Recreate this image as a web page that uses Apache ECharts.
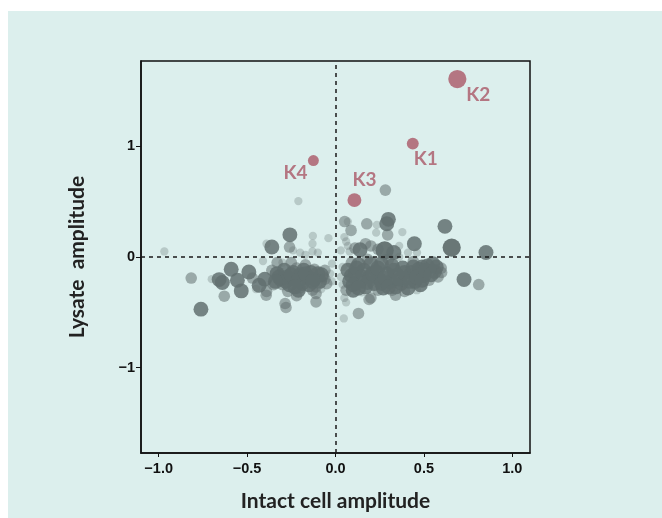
<!DOCTYPE html>
<html>
<head>
<meta charset="utf-8">
<script src="https://cdn.jsdelivr.net/npm/echarts@6/dist/echarts.min.js"></script>
<style>
  html, body { margin: 0; padding: 0; background: #fff; }
  .wrap { position: relative; width: 662px; height: 518px; }
  .panel { position: absolute; left: 8px; top: 11px; right: 0; bottom: 0; background: #dcefed; }
  #chart { position: absolute; left: 0; top: 0; width: 662px; height: 518px; }
</style>
</head>
<body>
<div class="wrap">
  <div class="panel"></div>
  <div id="chart"></div>
</div>
<script>
// [intact cell amplitude, lysate amplitude, weight 1..4]
const proteins = [
  [-0.968, 0.05, 1], [-0.816, -0.19, 2], [-0.761, -0.471, 3], [-0.70, -0.20, 1],
  [-0.658, -0.204, 3], [-0.64, -0.23, 3], [-0.59, -0.11, 3], [-0.629, -0.354, 2],
  [-0.555, -0.21, 3], [-0.533, -0.306, 3], [-0.49, -0.135, 3], [-0.47, -0.19, 2],
  [-0.432, -0.255, 3], [-0.40, -0.20, 3], [-0.392, -0.345, 2], [-0.39, -0.31, 2],
  [-0.45, -0.29, 1], [-0.36, 0.09, 3], [-0.258, 0.20, 3], [-0.26, 0.09, 2],
  [-0.24, 0.06, 1], [-0.21, 0.505, 1], [-0.128, 0.19, 1], [-0.04, 0.17, 1],
  [-0.13, 0.05, 1], [-0.13, 0.12, 1], [-0.39, 0.12, 1], [-0.41, -0.036, 1],
  [-0.33, -0.05, 2], [-0.30, -0.05, 1], [-0.20, 0.04, 1], [-0.17, 0.02, 1],
  [-0.10, 0.04, 1], [-0.02, -0.06, 1], [-0.28, -0.456, 2], [-0.285, -0.42, 2],
  [-0.11, -0.405, 2], [-0.11, -0.33, 2], [-0.21, -0.30, 3], [-0.22, -0.35, 2],
  [-0.30, -0.25, 2],
  [-0.33, -0.15, 3], [-0.31, -0.20, 3], [-0.29, -0.12, 3], [-0.27, -0.18, 3],
  [-0.26, -0.25, 3], [-0.24, -0.14, 3], [-0.23, -0.20, 3], [-0.22, -0.10, 2],
  [-0.20, -0.16, 3], [-0.19, -0.24, 3], [-0.18, -0.12, 3], [-0.16, -0.19, 3],
  [-0.15, -0.25, 3], [-0.14, -0.14, 3], [-0.12, -0.20, 3], [-0.11, -0.27, 2],
  [-0.10, -0.15, 3], [-0.09, -0.22, 3], [-0.07, -0.18, 2], [-0.06, -0.12, 2],
  [-0.05, -0.24, 2], [-0.03, -0.15, 1], [-0.35, -0.25, 2], [-0.36, -0.12, 2],
  [-0.25, -0.05, 2], [-0.17, -0.07, 2], [-0.13, -0.30, 2], [-0.08, -0.29, 1],
  [-0.02, -0.22, 1], [-0.27, -0.31, 2], [-0.20, -0.28, 2],
  [-0.32, -0.18, 3], [-0.28, -0.22, 3], [-0.25, -0.16, 3], [-0.21, -0.21, 3],
  [-0.17, -0.15, 3], [-0.13, -0.22, 3], [-0.08, -0.16, 3], [-0.06, -0.20, 2],
  [-0.34, -0.22, 3], [-0.23, -0.27, 3], [-0.12, -0.11, 2],
  [0.282, 0.604, 2], [0.299, 0.34, 3], [0.29, 0.30, 3], [0.619, 0.277, 3],
  [0.657, 0.085, 4], [0.851, 0.04, 3], [0.727, -0.204, 3], [0.81, -0.249, 2],
  [0.446, 0.12, 3], [0.461, 0.04, 1], [0.378, 0.225, 1], [0.41, 0.04, 1],
  [0.177, 0.30, 2], [0.234, 0.29, 1], [0.052, 0.32, 2], [0.07, 0.32, 1],
  [0.088, 0.24, 2], [0.05, 0.18, 1], [0.06, 0.14, 1], [0.07, 0.10, 1],
  [0.03, 0.06, 1], [0.08, 0.05, 1], [0.295, 0.20, 2], [0.139, 0.066, 3],
  [0.17, 0.12, 2], [0.20, 0.10, 2], [0.24, 0.07, 2], [0.278, 0.06, 4],
  [0.33, 0.04, 3], [0.36, 0.10, 1], [0.11, 0.08, 2], [0.598, -0.10, 2],
  [0.55, -0.06, 3], [0.49, -0.09, 3], [0.34, -0.345, 2], [0.19, -0.384, 2],
  [0.20, -0.37, 2], [0.13, -0.51, 2], [0.047, -0.555, 1], [0.05, -0.37, 1],
  [0.06, -0.41, 1], [0.04, -0.25, 1], [0.03, -0.18, 1], [0.23, 0.22, 1],
  [0.07, -0.12, 3], [0.08, -0.22, 3], [0.10, -0.30, 3], [0.11, -0.15, 3],
  [0.13, -0.07, 3], [0.14, -0.22, 3], [0.16, -0.12, 3], [0.17, -0.27, 3],
  [0.19, -0.18, 3], [0.20, -0.06, 3], [0.22, -0.24, 3], [0.23, -0.13, 3],
  [0.25, -0.20, 3], [0.26, -0.06, 3], [0.27, -0.28, 3], [0.29, -0.15, 3],
  [0.31, -0.22, 3], [0.32, -0.08, 3], [0.34, -0.27, 3], [0.35, -0.16, 3],
  [0.37, -0.24, 3], [0.38, -0.10, 3], [0.40, -0.19, 3], [0.41, -0.28, 3],
  [0.43, -0.14, 3], [0.45, -0.22, 3], [0.47, -0.11, 3], [0.48, -0.25, 3],
  [0.50, -0.17, 3], [0.52, -0.08, 3], [0.53, -0.21, 2], [0.56, -0.13, 3],
  [0.58, -0.18, 2], [0.18, -0.02, 2], [0.30, -0.02, 2], [0.44, -0.04, 2],
  [0.12, -0.25, 2], [0.24, -0.30, 2], [0.39, -0.31, 2], [0.09, -0.05, 2],
  [0.06, -0.30, 2], [0.15, -0.32, 1], [0.46, -0.30, 1], [0.28, -0.01, 1],
  [0.36, 0.00, 1], [0.04, -0.09, 1],
  [0.09, -0.17, 3], [0.12, -0.10, 3], [0.15, -0.18, 3], [0.18, -0.23, 3],
  [0.21, -0.15, 3], [0.24, -0.10, 3], [0.26, -0.24, 3], [0.28, -0.19, 3],
  [0.30, -0.27, 3], [0.33, -0.12, 3], [0.36, -0.20, 3], [0.39, -0.14, 3],
  [0.42, -0.22, 3], [0.44, -0.09, 3], [0.46, -0.18, 3], [0.49, -0.21, 3],
  [0.51, -0.12, 3], [0.54, -0.16, 3], [0.57, -0.09, 3], [0.60, -0.14, 2],
  [0.10, -0.25, 3], [0.13, -0.28, 3], [0.32, -0.30, 2]
]

// highlighted kinases
const hitNames = ['K1', 'K2', 'K3', 'K4']
const hitX = [0.437, 0.689, 0.107, -0.125]
const hitY = [1.024, 1.607, 0.514, 0.871]
const hitWeight = [2.1, 4, 2.7, 1.8]

const xTicks = [-1, -0.5, 0, 0.5, 1]
const yTicks = [-1, 0, 1]

// label placement around each hit (px)
const labelOffset = { K1: [13, 15], K2: [21, 16], K3: [10, -20], K4: [-18, 12] }

const sizeOf = w => 5 + 3.3 * w
const opacityOf = w => [0, 0.3, 0.55, 0.85, 0.95][Math.round(w)]
const minus = s => String(s).replace('-', '\u2212')

const chart = echarts.init(document.getElementById('chart'))

const option = {
  backgroundColor: 'transparent',
  animation: false,
  grid: { left: 141, right: 132, top: 61, bottom: 65, show: true, borderColor: '#111', borderWidth: 1.5 },
  xAxis: {
    type: 'value', min: -1.1, max: 1.1,
    name: 'Intact cell amplitude', nameLocation: 'middle', nameGap: 38,
    nameTextStyle: { fontFamily: 'Lato', fontWeight: 'bold', fontSize: 21, color: '#222' },
    axisLine: { show: true, onZero: false, lineStyle: { color: '#111', width: 1.5 } },
    axisTick: { show: true, length: 4, customValues: xTicks, lineStyle: { color: '#111' } },
    axisLabel: {
      customValues: xTicks, margin: 8,
      fontFamily: 'Liberation Sans', fontWeight: 'bold', fontSize: 14.5, color: '#111',
      formatter: v => minus(v.toFixed(1))
    },
    splitLine: { show: false }
  },
  yAxis: {
    type: 'value', min: -1.77, max: 1.77,
    name: 'Lysate  amplitude', nameLocation: 'middle', nameGap: 53,
    nameTextStyle: { fontFamily: 'Lato', fontWeight: 'bold', fontSize: 21, color: '#222' },
    axisLine: { show: true, onZero: false, lineStyle: { color: '#111', width: 1.5 } },
    axisTick: { show: true, length: 5, customValues: yTicks, lineStyle: { color: '#111' } },
    axisLabel: {
      customValues: yTicks, margin: 6,
      fontFamily: 'Liberation Sans', fontWeight: 'bold', fontSize: 14.5, color: '#111',
      formatter: v => minus(v)
    },
    splitLine: { show: false }
  },
  series: [
    {
      type: 'scatter',
      data: proteins.map(p => ({
        value: p,
        symbolSize: sizeOf(p[2]),
        itemStyle: { opacity: opacityOf(p[2]) }
      })),
      itemStyle: { color: '#627070' },
      markLine: {
        silent: true, symbol: 'none', animation: false,
        label: { show: false },
        lineStyle: { type: [4, 4], color: '#1a1a1a', width: 1.5 },
        data: [{ xAxis: 0 }, { yAxis: 0 }]
      },
      z: 2
    },
    {
      type: 'scatter',
      data: hitNames.map((n, i) => ({
        name: n,
        value: [hitX[i], hitY[i], hitWeight[i]],
        symbolSize: sizeOf(hitWeight[i]),
        label: { offset: labelOffset[n] }
      })),
      itemStyle: { color: '#b47682', opacity: 1 },
      label: {
        show: true, position: 'inside', formatter: p => p.name,
        fontFamily: 'Lato', fontWeight: 'bold', fontSize: 19, color: '#b47682'
      },
      z: 3
    }
  ]
}

chart.setOption(option)
</script>
</body>
</html>
